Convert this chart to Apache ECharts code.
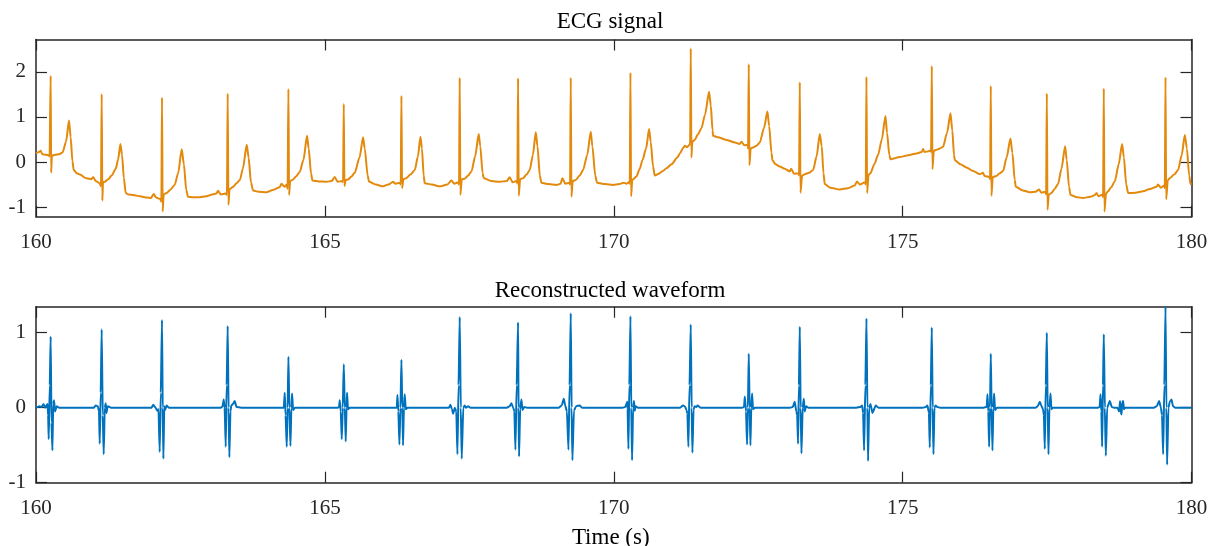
<!DOCTYPE html>
<html>
<head>
<meta charset="utf-8">
<script src="https://cdn.jsdelivr.net/npm/echarts@6/dist/echarts.min.js"></script>
<style>
  html, body { margin: 0; padding: 0; background: #ffffff; }
  #chart { width: 1212px; height: 546px; }
</style>
</head>
<body>
<div id="chart"></div>
<script>
// Time window (seconds) and tick labels
const timeTicks = [160, 165, 170, 175, 180];
const ecgTicks = [-1, 0, 1, 2];
const reconTicks = [-1, 0, 1];

// Raw ECG trace: [time (s), amplitude]
const ecgTrace = [
  [160.00, 0.19], [160.05, 0.22], [160.08, 0.25], [160.11, 0.17], [160.17, 0.16], [160.22, 0.15],
  [160.235, 0.12], [160.254, 1.91], [160.262, -0.24], [160.275, 0.14], [160.33, 0.16], [160.40, 0.17],
  [160.46, 0.21], [160.52, 0.45], [160.571, 0.92], [160.60, 0.55], [160.63, 0.02], [160.653, -0.18],
  [160.707, -0.25], [160.76, -0.28], [160.87, -0.36], [160.96, -0.38], [160.99, -0.33], [161.03, -0.42], [161.10, -0.47],
  [161.125, -0.54], [161.137, 1.51], [161.148, -0.86], [161.16, -0.45], [161.19, -0.44], [161.25, -0.38],
  [161.31, -0.30], [161.38, -0.15], [161.42, 0.05], [161.461, 0.40], [161.49, 0.15], [161.52, -0.35],
  [161.553, -0.69], [161.60, -0.72], [161.68, -0.73], [161.80, -0.76], [161.92, -0.79], [161.99, -0.80],
  [162.037, -0.71], [162.08, -0.79], [162.15, -0.82],
  [162.17, -0.88], [162.181, 1.43], [162.192, -1.10], [162.21, -0.72], [162.257, -0.69], [162.32, -0.62],
  [162.40, -0.51], [162.46, -0.25], [162.522, 0.28], [162.56, -0.05], [162.60, -0.62], [162.631, -0.77],
  [162.72, -0.78], [162.83, -0.78], [162.95, -0.76], [163.05, -0.72], [163.123, -0.70], [163.15, -0.64],
  [163.20, -0.72], [163.28, -0.70],
  [163.305, -0.73], [163.318, 1.52], [163.33, -0.95], [163.35, -0.60], [163.414, -0.55], [163.47, -0.47],
  [163.529, -0.40], [163.58, -0.15], [163.647, 0.38], [163.68, 0.10], [163.72, -0.45], [163.757, -0.63],
  [163.85, -0.66], [163.988, -0.67], [164.10, -0.62], [164.218, -0.56], [164.25, -0.48], [164.30, -0.55], [164.34, -0.50],
  [164.355, -0.60], [164.369, 1.62], [164.38, -0.73], [164.40, -0.42], [164.45, -0.39], [164.50, -0.32],
  [164.565, -0.22], [164.63, 0.05], [164.691, 0.58], [164.72, 0.30], [164.76, -0.25], [164.784, -0.41],
  [164.90, -0.43], [165.027, -0.44], [165.12, -0.42], [165.17, -0.33], [165.22, -0.44], [165.30, -0.42],
  [165.315, -0.45], [165.327, 1.29], [165.338, -0.53], [165.36, -0.40], [165.40, -0.39], [165.46, -0.32],
  [165.516, -0.24], [165.60, 0.10], [165.661, 0.55], [165.69, 0.30], [165.74, -0.30], [165.765, -0.44],
  [165.88, -0.50], [166.007, -0.54], [166.10, -0.50], [166.18, -0.44], [166.22, -0.48], [166.30, -0.46],
  [166.313, -0.50], [166.325, 1.47], [166.336, -0.58], [166.36, -0.38], [166.41, -0.36], [166.48, -0.28],
  [166.556, -0.18], [166.61, 0.12], [166.654, 0.56], [166.68, 0.30], [166.71, -0.30], [166.728, -0.47],
  [166.85, -0.50], [166.988, -0.54], [167.12, -0.50], [167.19, -0.41], [167.24, -0.48], [167.31, -0.45],
  [167.322, -0.50], [167.334, 1.87], [167.345, -0.73], [167.37, -0.38], [167.42, -0.37], [167.48, -0.30],
  [167.537, -0.21], [167.60, 0.12], [167.663, 0.62], [167.69, 0.35], [167.73, -0.25], [167.75, -0.36],
  [167.88, -0.42], [168.027, -0.44], [168.15, -0.42], [168.20, -0.34], [168.25, -0.45], [168.32, -0.42],
  [168.332, -0.48], [168.344, 1.86], [168.355, -0.75], [168.38, -0.38], [168.43, -0.36], [168.49, -0.28],
  [168.546, -0.18], [168.60, 0.15], [168.65, 0.66], [168.68, 0.35], [168.72, -0.30], [168.748, -0.46],
  [168.87, -0.49], [169.008, -0.51], [169.08, -0.48], [169.11, -0.36], [169.16, -0.48], [169.23, -0.46],
  [169.244, -0.50], [169.256, 1.87], [169.267, -0.77], [169.29, -0.42], [169.342, -0.40], [169.41, -0.30],
  [169.469, -0.18], [169.54, 0.15], [169.602, 0.67], [169.63, 0.35], [169.68, -0.30], [169.711, -0.46],
  [169.85, -0.49], [169.988, -0.51], [170.10, -0.49], [170.17, -0.46], [170.22, -0.48], [170.26, -0.45],
  [170.277, -0.48], [170.289, 1.98], [170.30, -0.76], [170.32, -0.40], [170.393, -0.32], [170.45, -0.15],
  [170.497, 0.04], [170.56, 0.30], [170.611, 0.73], [170.64, 0.45], [170.68, -0.10], [170.71, -0.30],
  [170.78, -0.26], [170.85, -0.20], [170.912, -0.14], [171.00, -0.05], [171.10, 0.10], [171.15, 0.20],
  [171.20, 0.31], [171.23, 0.36], [171.27, 0.33], [171.31, 0.38],
  [171.322, 0.41], [171.333, 2.52], [171.344, 0.10], [171.36, 0.45], [171.402, 0.49], [171.46, 0.62],
  [171.518, 0.75], [171.58, 1.05], [171.65, 1.56], [171.68, 1.25], [171.71, 0.70], [171.72, 0.58],
  [171.80, 0.55], [171.951, 0.49], [172.08, 0.44], [172.181, 0.40], [172.21, 0.45], [172.26, 0.37], [172.32, 0.38],
  [172.325, 0.30], [172.337, 2.17], [172.348, -0.07], [172.37, 0.30], [172.41, 0.32], [172.47, 0.36],
  [172.527, 0.43], [172.60, 0.75], [172.66, 1.12], [172.69, 0.80], [172.73, 0.20], [172.747, 0.04],
  [172.80, -0.05], [172.873, -0.10], [172.96, -0.15], [173.046, -0.21], [173.07, -0.15], [173.12, -0.26], [173.20, -0.25],
  [173.208, -0.30], [173.22, 1.77], [173.232, -0.68], [173.26, -0.30], [173.307, -0.27], [173.38, -0.24],
  [173.45, -0.18], [173.51, 0.12], [173.566, 0.62], [173.60, 0.35], [173.63, -0.25], [173.652, -0.49],
  [173.75, -0.57], [173.912, -0.61], [174.05, -0.58], [174.172, -0.52], [174.21, -0.43], [174.26, -0.50], [174.35, -0.45],
  [174.362, -0.50], [174.374, 1.89], [174.385, -0.69], [174.41, -0.28], [174.443, -0.25], [174.51, -0.05],
  [174.576, 0.16], [174.64, 0.50], [174.703, 1.02], [174.73, 0.65], [174.77, 0.15], [174.79, 0.06],
  [174.951, 0.11], [175.10, 0.15], [175.24, 0.19], [175.33, 0.22], [175.354, 0.29], [175.38, 0.22],
  [175.45, 0.24], [175.49, 0.26],
  [175.493, 0.22], [175.505, 2.13], [175.516, -0.16], [175.54, 0.25], [175.586, 0.27], [175.645, 0.30],
  [175.70, 0.34], [175.77, 0.65], [175.828, 1.08], [175.86, 0.70], [175.89, 0.15], [175.903, 0.04],
  [176.00, -0.05], [176.105, -0.12], [176.22, -0.20], [176.336, -0.27], [176.39, -0.24], [176.42, -0.31], [176.50, -0.33],
  [176.514, -0.38], [176.526, 1.69], [176.537, -0.75], [176.56, -0.33], [176.624, -0.31], [176.68, -0.25],
  [176.739, -0.20], [176.80, 0.10], [176.867, 0.52], [176.90, 0.20], [176.94, -0.40], [176.959, -0.55],
  [177.08, -0.63], [177.20, -0.67], [177.30, -0.66], [177.363, -0.61], [177.40, -0.68], [177.47, -0.66],
  [177.484, -0.72], [177.496, 1.52], [177.507, -1.06], [177.53, -0.72], [177.576, -0.69], [177.63, -0.60],
  [177.69, -0.49], [177.75, -0.15], [177.812, 0.35], [177.84, 0.05], [177.88, -0.55], [177.905, -0.73],
  [178.02, -0.78], [178.124, -0.80], [178.25, -0.77], [178.32, -0.74], [178.355, -0.69], [178.39, -0.76], [178.46, -0.72],
  [178.47, -0.78], [178.482, 1.63], [178.493, -1.10], [178.52, -0.70], [178.556, -0.65], [178.61, -0.56],
  [178.672, -0.43], [178.74, -0.05], [178.799, 0.40], [178.83, 0.10], [178.87, -0.50], [178.903, -0.69],
  [179.03, -0.68], [179.163, -0.65], [179.28, -0.60], [179.395, -0.55], [179.42, -0.50], [179.47, -0.57], [179.53, -0.52],
  [179.538, -0.58], [179.55, 1.88], [179.561, -0.83], [179.59, -0.40], [179.624, -0.36], [179.70, -0.28],
  [179.768, -0.18], [179.83, 0.15], [179.884, 0.60], [179.92, 0.30], [179.96, -0.30], [179.983, -0.49], [180.00, -0.50]
];

// Reconstructed QRS waveform: [time (s), amplitude]
const reconTrace = [
  [160.00, 0.00], [160.06, 0.02], [160.10, 0.01], [160.13, 0.05], [160.16, 0.00], [160.20, 0.05],
  [160.21, -0.10], [160.22, -0.42], [160.238, 0.30], [160.254, 0.95], [160.268, -0.20], [160.284, -0.57],
  [160.298, 0.05], [160.312, 0.10], [160.33, -0.05], [160.36, 0.02], [160.40, 0.00],
  [160.70, 0.00], [161.00, 0.00], [161.033, 0.03], [161.07, 0.02], [161.09, -0.05], [161.103, -0.48],
  [161.12, 0.20], [161.137, 1.045], [161.155, -0.10], [161.172, -0.62], [161.19, 0.00], [161.207, 0.06],
  [161.22, -0.07], [161.24, 0.02], [161.30, 0.00],
  [161.70, 0.00], [162.00, 0.00], [162.03, 0.04], [162.07, 0.00], [162.10, -0.04], [162.12, -0.02],
  [162.141, -0.59], [162.16, 0.20], [162.181, 1.17], [162.193, 0.00], [162.205, -0.68], [162.22, 0.02],
  [162.235, -0.03], [162.26, 0.03], [162.30, 0.00],
  [162.80, 0.00], [163.20, 0.00], [163.23, 0.02], [163.249, 0.11], [163.265, 0.00], [163.284, -0.52],
  [163.30, 0.30], [163.318, 1.09], [163.333, 0.00], [163.347, -0.66], [163.365, -0.05], [163.38, 0.03],
  [163.41, 0.05], [163.44, 0.09], [163.47, 0.01], [163.55, 0.00],
  [163.90, 0.00], [164.25, 0.00], [164.29, 0.00], [164.305, 0.20], [164.32, -0.10], [164.34, -0.52],
  [164.355, 0.00], [164.369, 0.68], [164.385, 0.00], [164.404, -0.51], [164.42, 0.00], [164.432, 0.19],
  [164.45, -0.03], [164.48, 0.00],
  [164.85, 0.00], [165.22, 0.00], [165.245, 0.01], [165.257, 0.10], [165.275, -0.05], [165.292, -0.42],
  [165.31, 0.00], [165.327, 0.58], [165.345, 0.00], [165.361, -0.45], [165.375, 0.00], [165.384, 0.20],
  [165.40, -0.02], [165.43, 0.00],
  [165.80, 0.00], [166.22, 0.00], [166.245, 0.00], [166.256, 0.17], [166.272, -0.05], [166.29, -0.49],
  [166.308, 0.00], [166.325, 0.64], [166.34, 0.00], [166.353, -0.50], [166.368, 0.00], [166.382, 0.18],
  [166.40, -0.02], [166.43, 0.00],
  [166.80, 0.00], [167.15, 0.00], [167.173, 0.04], [167.20, -0.02], [167.219, -0.08], [167.25, 0.00],
  [167.275, -0.05], [167.294, -0.62], [167.314, 0.30], [167.334, 1.21], [167.352, 0.00], [167.369, -0.68],
  [167.395, 0.00], [167.421, 0.03], [167.44, 0.00], [167.48, 0.02], [167.52, 0.00],
  [167.85, 0.00], [168.15, 0.00], [168.20, 0.02], [168.229, 0.06], [168.26, 0.00], [168.28, -0.05],
  [168.298, -0.56], [168.32, 0.30], [168.344, 1.14], [168.352, 0.00], [168.361, -0.65], [168.38, -0.02],
  [168.402, 0.11], [168.42, -0.03], [168.45, 0.01], [168.50, 0.00],
  [168.80, 0.00], [169.05, 0.00], [169.10, 0.03], [169.135, 0.12], [169.16, 0.03], [169.19, -0.05],
  [169.216, -0.56], [169.236, 0.30], [169.256, 1.26], [169.27, 0.00], [169.285, -0.70], [169.31, -0.04],
  [169.35, 0.02], [169.411, 0.03], [169.45, 0.00],
  [169.80, 0.00], [170.15, 0.00], [170.20, 0.01], [170.235, 0.08], [170.24, -0.02], [170.254, -0.55],
  [170.27, 0.30], [170.289, 1.22], [170.303, 0.00], [170.317, -0.70], [170.335, 0.00], [170.35, 0.09],
  [170.364, -0.04], [170.38, 0.02], [170.42, 0.00],
  [170.80, 0.00], [171.15, 0.00], [171.20, 0.03], [171.23, 0.02], [171.26, -0.03], [171.275, -0.08],
  [171.292, -0.52], [171.312, 0.30], [171.333, 1.11], [171.348, 0.00], [171.362, -0.60], [171.38, -0.03],
  [171.40, 0.02], [171.43, 0.01], [171.45, 0.03], [171.50, 0.00],
  [171.90, 0.00], [172.22, 0.00], [172.255, 0.01], [172.268, 0.15], [172.29, -0.05], [172.307, -0.49],
  [172.322, 0.00], [172.337, 0.72], [172.352, 0.00], [172.366, -0.50], [172.38, 0.00], [172.395, 0.19],
  [172.41, -0.02], [172.44, 0.00],
  [172.80, 0.00], [173.05, 0.00], [173.10, 0.01], [173.133, 0.08], [173.16, -0.05], [173.175, -0.10],
  [173.19, -0.48], [173.205, 0.30], [173.22, 1.08], [173.235, 0.00], [173.249, -0.61], [173.27, 0.00],
  [173.29, 0.12], [173.305, -0.05], [173.33, 0.02], [173.37, 0.00],
  [173.80, 0.00], [174.20, 0.00], [174.27, 0.01], [174.30, 0.03], [174.316, -0.07], [174.333, -0.57],
  [174.355, 0.30], [174.374, 1.19], [174.39, 0.00], [174.402, -0.71], [174.42, 0.00], [174.443, 0.05],
  [174.478, -0.07], [174.535, 0.03], [174.58, 0.00],
  [175.00, 0.00], [175.35, 0.00], [175.40, 0.01], [175.43, 0.03], [175.455, -0.07], [175.47, -0.53],
  [175.488, 0.30], [175.505, 1.07], [175.52, 0.00], [175.534, -0.62], [175.55, 0.00], [175.57, 0.03],
  [175.60, 0.01], [175.65, 0.00],
  [176.00, 0.00], [176.40, 0.00], [176.455, 0.01], [176.469, 0.18], [176.483, -0.05], [176.497, -0.52],
  [176.512, 0.00], [176.526, 0.72], [176.54, 0.00], [176.555, -0.57], [176.57, 0.00], [176.583, 0.19],
  [176.60, -0.03], [176.63, 0.00],
  [177.00, 0.00], [177.30, 0.00], [177.34, 0.02], [177.375, 0.08], [177.40, 0.03], [177.43, -0.02],
  [177.445, -0.10], [177.461, -0.55], [177.478, 0.30], [177.496, 1.00], [177.51, 0.00], [177.525, -0.62],
  [177.54, 0.00], [177.56, 0.19], [177.575, -0.02], [177.60, 0.00],
  [178.00, 0.00], [178.38, 0.00], [178.41, 0.01], [178.425, 0.18], [178.44, -0.05], [178.453, -0.52],
  [178.468, 0.30], [178.482, 0.98], [178.50, 0.00], [178.517, -0.64], [178.54, 0.00], [178.586, 0.09],
  [178.62, 0.01], [178.66, 0.00], [178.72, 0.00], [178.747, -0.05], [178.763, 0.09], [178.776, -0.06],
  [178.79, -0.09], [178.80, 0.07], [178.817, 0.09], [178.83, -0.02], [178.846, 0.00], [178.90, 0.00],
  [179.20, 0.00], [179.35, 0.00], [179.40, 0.02], [179.439, 0.09], [179.47, 0.00], [179.49, -0.10],
  [179.509, -0.62], [179.53, 0.30], [179.55, 1.35], [179.565, 0.00], [179.578, -0.76], [179.60, 0.00],
  [179.625, 0.08], [179.654, 0.11], [179.68, 0.02], [179.72, 0.00], [180.00, 0.00]
];

const FONT = '"Liberation Serif", "DejaVu Serif", serif';
const AXIS_COLOR = '#262626';
const ECG_COLOR = '#E3890C';
const RECON_COLOR = '#0072BD';

const chart = echarts.init(document.getElementById('chart'), null, { renderer: 'canvas' });

// Plot boxes are placed explicitly; labels may sit outside them freely
const gridBox = [
  { left: 36, right: 20.5, top: 39.5, height: 177.2, containLabel: false, outerBoundsMode: 'none' },
  { left: 36, right: 20.5, top: 306.7, height: 176, containLabel: false, outerBoundsMode: 'none' }
];

function timeAxis(gridIndex, position, withLabels, name) {
  return {
    type: 'value',
    gridIndex: gridIndex,
    position: position,
    min: timeTicks[0],
    max: timeTicks[timeTicks.length - 1],
    interval: 5,
    name: name || '',
    nameLocation: 'middle',
    nameGap: 44,
    nameTextStyle: { fontFamily: FONT, fontSize: 23, color: '#000', padding: [0, 6, 0, 0] },
    axisLine: { show: true, onZero: false, lineStyle: { color: AXIS_COLOR, width: 1.5 } },
    axisTick: { show: true, inside: true, length: 11, lineStyle: { color: AXIS_COLOR, width: 1.2 } },
    axisLabel: {
      show: withLabels, margin: 15, fontFamily: FONT, fontSize: 21, color: '#262626',
      formatter: v => String(v)
    },
    splitLine: { show: false }
  };
}

function ampAxis(gridIndex, position, withLabels, lo, hi, ticks) {
  return {
    type: 'value',
    gridIndex: gridIndex,
    position: position,
    min: lo,
    max: hi,
    axisLine: { show: true, onZero: false, lineStyle: { color: AXIS_COLOR, width: 1.5 } },
    axisTick: { show: true, inside: true, length: 11, customValues: ticks, lineStyle: { color: AXIS_COLOR, width: 1.2 } },
    axisLabel: {
      show: withLabels, margin: 10, fontFamily: FONT, fontSize: 21, color: '#262626',
      customValues: ticks, formatter: v => String(v)
    },
    splitLine: { show: false }
  };
}

const option = {
  animation: false,
  backgroundColor: '#ffffff',
  title: [
    {
      text: 'ECG signal', left: 610, top: 10, padding: 0, textAlign: 'center',
      textStyle: { fontFamily: FONT, fontSize: 23, fontWeight: 'normal', color: '#000' }
    },
    {
      text: 'Reconstructed waveform', left: 610, top: 279, padding: 0, textAlign: 'center',
      textStyle: { fontFamily: FONT, fontSize: 23, fontWeight: 'normal', color: '#000' }
    }
  ],
  grid: gridBox,
  xAxis: [
    timeAxis(0, 'bottom', true),
    timeAxis(0, 'top', false),
    timeAxis(1, 'bottom', true, 'Time (s)'),
    timeAxis(1, 'top', false)
  ],
  yAxis: [
    ampAxis(0, 'left', true, -1.213, 2.716, ecgTicks),
    ampAxis(0, 'right', false, -1.213, 2.716, ecgTicks),
    ampAxis(1, 'left', true, -1, 1.347, reconTicks),
    ampAxis(1, 'right', false, -1, 1.347, reconTicks)
  ],
  series: [
    {
      name: 'ECG signal', type: 'line', xAxisIndex: 0, yAxisIndex: 0,
      data: ecgTrace, showSymbol: false, clip: true,
      smooth: 0.25, smoothMonotone: 'x',
      lineStyle: { color: ECG_COLOR, width: 2 }
    },
    {
      name: 'Reconstructed waveform', type: 'line', xAxisIndex: 2, yAxisIndex: 2,
      data: reconTrace, showSymbol: false, clip: true,
      smooth: 0.15, smoothMonotone: 'x',
      lineStyle: { color: RECON_COLOR, width: 2 }
    }
  ]
};

chart.setOption(option);
</script>
</body>
</html>
